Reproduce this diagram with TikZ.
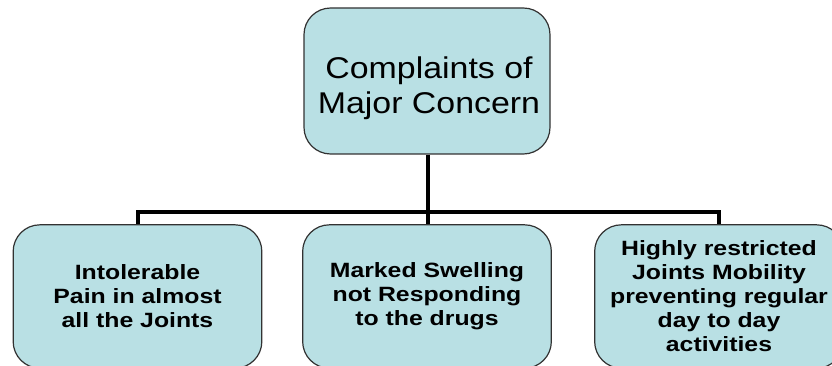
\documentclass[tikz,border=0pt]{standalone}
\usepackage{fontspec}
\setmainfont{Liberation Sans}
\newfontfamily\headfont[FakeStretch=1.13]{Liberation Sans}
\newfontfamily\leaffont[FakeStretch=1.2]{Liberation Sans}
\usepackage{xcolor}
\definecolor{boxfill}{RGB}{185,224,228}
\definecolor{boxline}{RGB}{50,50,50}

\begin{document}
\begin{tikzpicture}[x=0.75pt, y=-0.75pt,
    complaint/.style={draw=boxline, fill=boxfill, line width=0.9pt,
        rounded corners=20pt, align=center, inner sep=0pt},
    headbox/.style={complaint, minimum width=184.5pt, minimum height=109.5pt},
    headtext/.style={align=center, inner sep=0pt,
        font=\headfont\fontsize{22.5}{26.3}\selectfont},
    leafbox/.style={complaint, minimum width=186.5pt, minimum height=107.5pt,
        font=\leaffont\bfseries\fontsize{15.5}{18}\selectfont},
    branch/.style={line width=3pt, line join=miter}]
    % Fix the page size and cut the boxes at its edges
    \useasboundingbox (0,0) rectangle (832,366);
    \clip (0,0) rectangle (832,366);

    % Junction of the branches
    \coordinate (bus) at (428,212);

    % Draw the main complaint box
    \node[headbox] (concern) at (427,81) {};
    \node[headtext] (concerntext) at (429,88) {Complaints of\\Major Concern};

    % Draw the three complaint boxes
    \node[leafbox] (pain) at (137.5,296.5) {Intolerable\\Pain in almost\\all the Joints};
    \node[leafbox] (swelling) at (427,296.5) {Marked Swelling\\not Responding\\to the drugs};
    \node[leafbox] (mobility) at (719,296.5) {Highly restricted\\Joints Mobility\\preventing regular\\day to day\\activities};

    % Draw the branches
    \draw[branch] (concern.south -| bus) -- (bus);
    \draw[branch] (pain.north) |- (bus) -| (mobility.north);
    \draw[branch] (bus) -- (swelling.north -| bus);
\end{tikzpicture}
\end{document}
